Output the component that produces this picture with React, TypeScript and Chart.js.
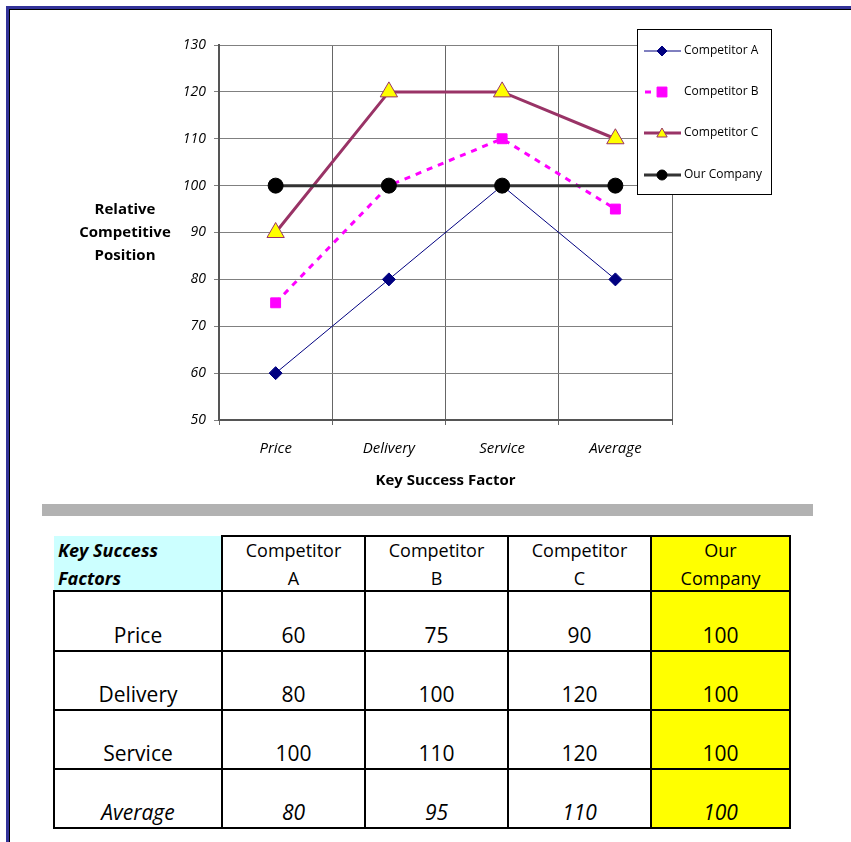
import React, { useEffect, useRef } from "react";
import { Chart, registerables } from "chart.js";
import { drawPoint } from "chart.js/helpers";

Chart.register(...registerables);

const categories = ["Price", "Delivery", "Service", "Average"];
const seriesNames = ["Competitor A", "Competitor B", "Competitor C", "Our Company"];
const competitorA = [60, 80, 100, 80];
const competitorB = [75, 100, 110, 95];
const competitorC = [90, 120, 120, 110];
const ourCompany = [100, 100, 100, 100];
const yMin = 50;
const yMax = 130;
const yStep = 10;
const xTitle = "Key Success Factor";
const yTitleLines = ["Relative", "Competitive", "Position"];
const tableCorner = ["Key Success", "Factors"];

const FONT = '"Open Sans", "Lato", sans-serif';

const W = 851;
const CH = 500;

const legendPlugin = {
  id: "customLegend",
  afterDraw(chart: any) {
    const ctx = chart.ctx;
    ctx.save();
    ctx.fillStyle = "#000";
    ctx.font = `bold 15px ${FONT}`;
    ctx.textAlign = "center";
    ctx.textBaseline = "middle";
    yTitleLines.forEach((t, i) => ctx.fillText(t, 125, 210 + i * 23));

    const bx = 637, by = 29, bw = 134, bh = 165;
    ctx.fillStyle = "#fff";
    ctx.fillRect(bx, by, bw, bh);
    ctx.strokeStyle = "#000";
    ctx.lineWidth = 1;
    ctx.strokeRect(bx + 0.5, by + 0.5, bw, bh);
    const ds = chart.data.datasets;
    const ys = [51, 92, 133, 175];
    ds.forEach((d: any, i: number) => {
      const y = ys[i];
      ctx.save();
      ctx.strokeStyle = d.borderColor;
      ctx.lineWidth = d.borderWidth;
      ctx.beginPath();
      if (d.borderDash) {
        ctx.moveTo(645, y);
        ctx.lineTo(651, y);
      } else {
        ctx.moveTo(644, y);
        ctx.lineTo(681, y);
      }
      ctx.stroke();
      ctx.restore();
      ctx.save();
      ctx.fillStyle = d.pointBackgroundColor;
      ctx.strokeStyle = d.pointBorderColor;
      ctx.lineWidth = d.pointBorderWidth;
      drawPoint(
        ctx,
        { pointStyle: d.pointStyle, rotation: 0, borderWidth: d.pointBorderWidth, radius: d.legendRadius } as any,
        662,
        y + (d.pointStyle === "triangle" ? 1 : 0)
      );
      ctx.restore();
      ctx.fillStyle = "#000";
      ctx.font = `12px ${FONT}`;
      ctx.textAlign = "left";
      ctx.textBaseline = "middle";
      ctx.fillText(d.label, 684, y);
    });
    ctx.restore();
  },
};

function ChartBox() {
  const ref = useRef<HTMLCanvasElement | null>(null);
  useEffect(() => {
    if (!ref.current) return;
    const chart = new Chart(ref.current, {
      type: "line",
      data: {
        labels: categories,
        datasets: [
          {
            label: seriesNames[0],
            data: competitorA,
            borderColor: "#000080",
            borderWidth: 1,
            pointStyle: "rectRot",
            pointRadius: 6.5,
            pointBackgroundColor: "#000080",
            pointBorderColor: "#000080",
            pointBorderWidth: 1,
            order: 3,
            legendRadius: 5,
          } as any,
          {
            label: seriesNames[1],
            data: competitorB,
            borderColor: "#FF00FF",
            borderWidth: 3,
            borderDash: [6, 6],
            pointStyle: "rect",
            pointRadius: 7,
            pointBackgroundColor: "#FF00FF",
            pointBorderColor: "#FF00FF",
            pointBorderWidth: 1,
            order: 2,
            legendRadius: 7,
          } as any,
          {
            label: seriesNames[2],
            data: competitorC,
            borderColor: "#993366",
            borderWidth: 3,
            pointStyle: "triangle",
            pointRadius: 10,
            pointBackgroundColor: "#FFFF00",
            pointBorderColor: "#993366",
            pointBorderWidth: 1,
            order: 1,
            legendRadius: 6,
          } as any,
          {
            label: seriesNames[3],
            data: ourCompany,
            borderColor: "#333333",
            borderWidth: 3,
            pointStyle: "circle",
            pointRadius: 7.5,
            pointBackgroundColor: "#000000",
            pointBorderColor: "#000000",
            pointBorderWidth: 1,
            order: 0,
            legendRadius: 5,
          } as any,
        ],
      },
      options: {
        animation: false,
        responsive: false,
        maintainAspectRatio: false,
        devicePixelRatio: 1,
        layout: { padding: { left: 0, right: 179, top: 45, bottom: 0 } },
        plugins: { legend: { display: false }, tooltip: { enabled: false } },
        scales: {
          x: {
            type: "category",
            offset: true,
            grid: { offset: true, color: "#666", lineWidth: 1, tickLength: 5 },
            border: { color: "#555", width: 2 },
            ticks: { color: "#000", padding: 15, font: { family: FONT, size: 15, style: "italic" } },
            title: {
              display: true,
              text: xTitle,
              color: "#000",
              font: { family: FONT, size: 15, weight: "bold" },
              padding: { top: 4, bottom: 10 },
            },
            afterFit: (s: any) => {
              s.height = 80;
            },
          },
          y: {
            min: yMin,
            max: yMax,
            grid: { color: "#808080", lineWidth: 1, tickLength: 5 },
            border: { color: "#555", width: 2 },
            ticks: { stepSize: yStep, color: "#000", padding: 8, font: { family: FONT, size: 14, style: "italic" } },
            afterFit: (s: any) => {
              s.width = 219;
            },
          },
        },
      } as any,
      plugins: [legendPlugin],
    });
    return () => chart.destroy();
  }, []);
  return (
    <canvas
      ref={ref}
      width={W}
      height={CH}
      style={{ position: "absolute", left: 0, top: 0, width: W, height: CH }}
    />
  );
}

const colEdges = [54, 222, 365, 508, 651, 790];
const rowEdges = [536, 591, 651, 710, 769, 828];

function splitName(n: string) {
  const i = n.lastIndexOf(" ");
  return [n.slice(0, i), n.slice(i + 1)];
}

function DataTable() {
  const series = [competitorA, competitorB, competitorC, ourCompany];
  const cells: React.ReactNode[] = [];
  cells.push(
    <div
      key="corner"
      style={{
        position: "absolute",
        left: colEdges[0],
        top: rowEdges[0],
        width: colEdges[1] - colEdges[0],
        height: rowEdges[1] - rowEdges[0],
        background: "#CCFFFF",
        fontFamily: FONT,
        fontWeight: "bold",
        fontStyle: "italic",
        fontSize: 18,
        lineHeight: "28px",
        paddingLeft: 4,
        boxSizing: "border-box",
      }}
    >
      {tableCorner.map((t, i) => (
        <div key={i}>{t}</div>
      ))}
    </div>
  );
  for (let c = 1; c < colEdges.length - 1; c++) {
    const lines = splitName(seriesNames[c - 1]);
    cells.push(
      <div
        key={"h" + c}
        style={{
          position: "absolute",
          left: colEdges[c] - 1,
          top: rowEdges[0] - 1,
          width: colEdges[c + 1] - colEdges[c] + 2,
          height: rowEdges[1] - rowEdges[0] + 2,
          border: "2px solid #000",
          boxSizing: "border-box",
          background: c === 4 ? "#FFFF00" : "#fff",
          fontFamily: FONT,
          fontSize: 18,
          lineHeight: "28px",
          textAlign: "center",
        }}
      >
        {lines.map((t, i) => (
          <div key={i} style={{ marginTop: i === 0 ? -1 : 0 }}>
            {t}
          </div>
        ))}
      </div>
    );
  }
  for (let r = 0; r < categories.length; r++) {
    const italic = r === categories.length - 1;
    for (let c = 0; c < colEdges.length - 1; c++) {
      const text = c === 0 ? categories[r] : String(series[c - 1][r]);
      cells.push(
        <div
          key={"c" + r + "_" + c}
          style={{
            position: "absolute",
            left: colEdges[c] - 1,
            top: rowEdges[r + 1] - 1,
            width: colEdges[c + 1] - colEdges[c] + 2,
            height: rowEdges[r + 2] - rowEdges[r + 1] + 2,
            border: "2px solid #000",
            boxSizing: "border-box",
            background: c === 4 ? "#FFFF00" : "#fff",
            fontFamily: FONT,
            fontSize: 21,
            fontStyle: italic ? "italic" : "normal",
            lineHeight: "24px",
            display: "flex",
            alignItems: "flex-end",
            justifyContent: "center",
            paddingBottom: 3,
          }}
        >
          {text}
        </div>
      );
    }
  }
  return <>{cells}</>;
}

export default function App() {
  return (
    <div style={{ position: "absolute", left: 0, top: 0, width: W, height: 842, background: "#fff", overflow: "hidden" }}>
      <ChartBox />
      <div style={{ position: "absolute", left: 6, top: 6, width: 845, height: 3, background: "#333399" }} />
      <div style={{ position: "absolute", left: 9, top: 9, width: 842, height: 1, background: "#000" }} />
      <div style={{ position: "absolute", left: 6, top: 6, width: 3, height: 836, background: "#333399" }} />
      <div style={{ position: "absolute", left: 9, top: 9, width: 1, height: 833, background: "#000" }} />
      <div style={{ position: "absolute", left: 42, top: 504, width: 771, height: 12, background: "#B2B2B2" }} />
      <DataTable />
    </div>
  );
}
